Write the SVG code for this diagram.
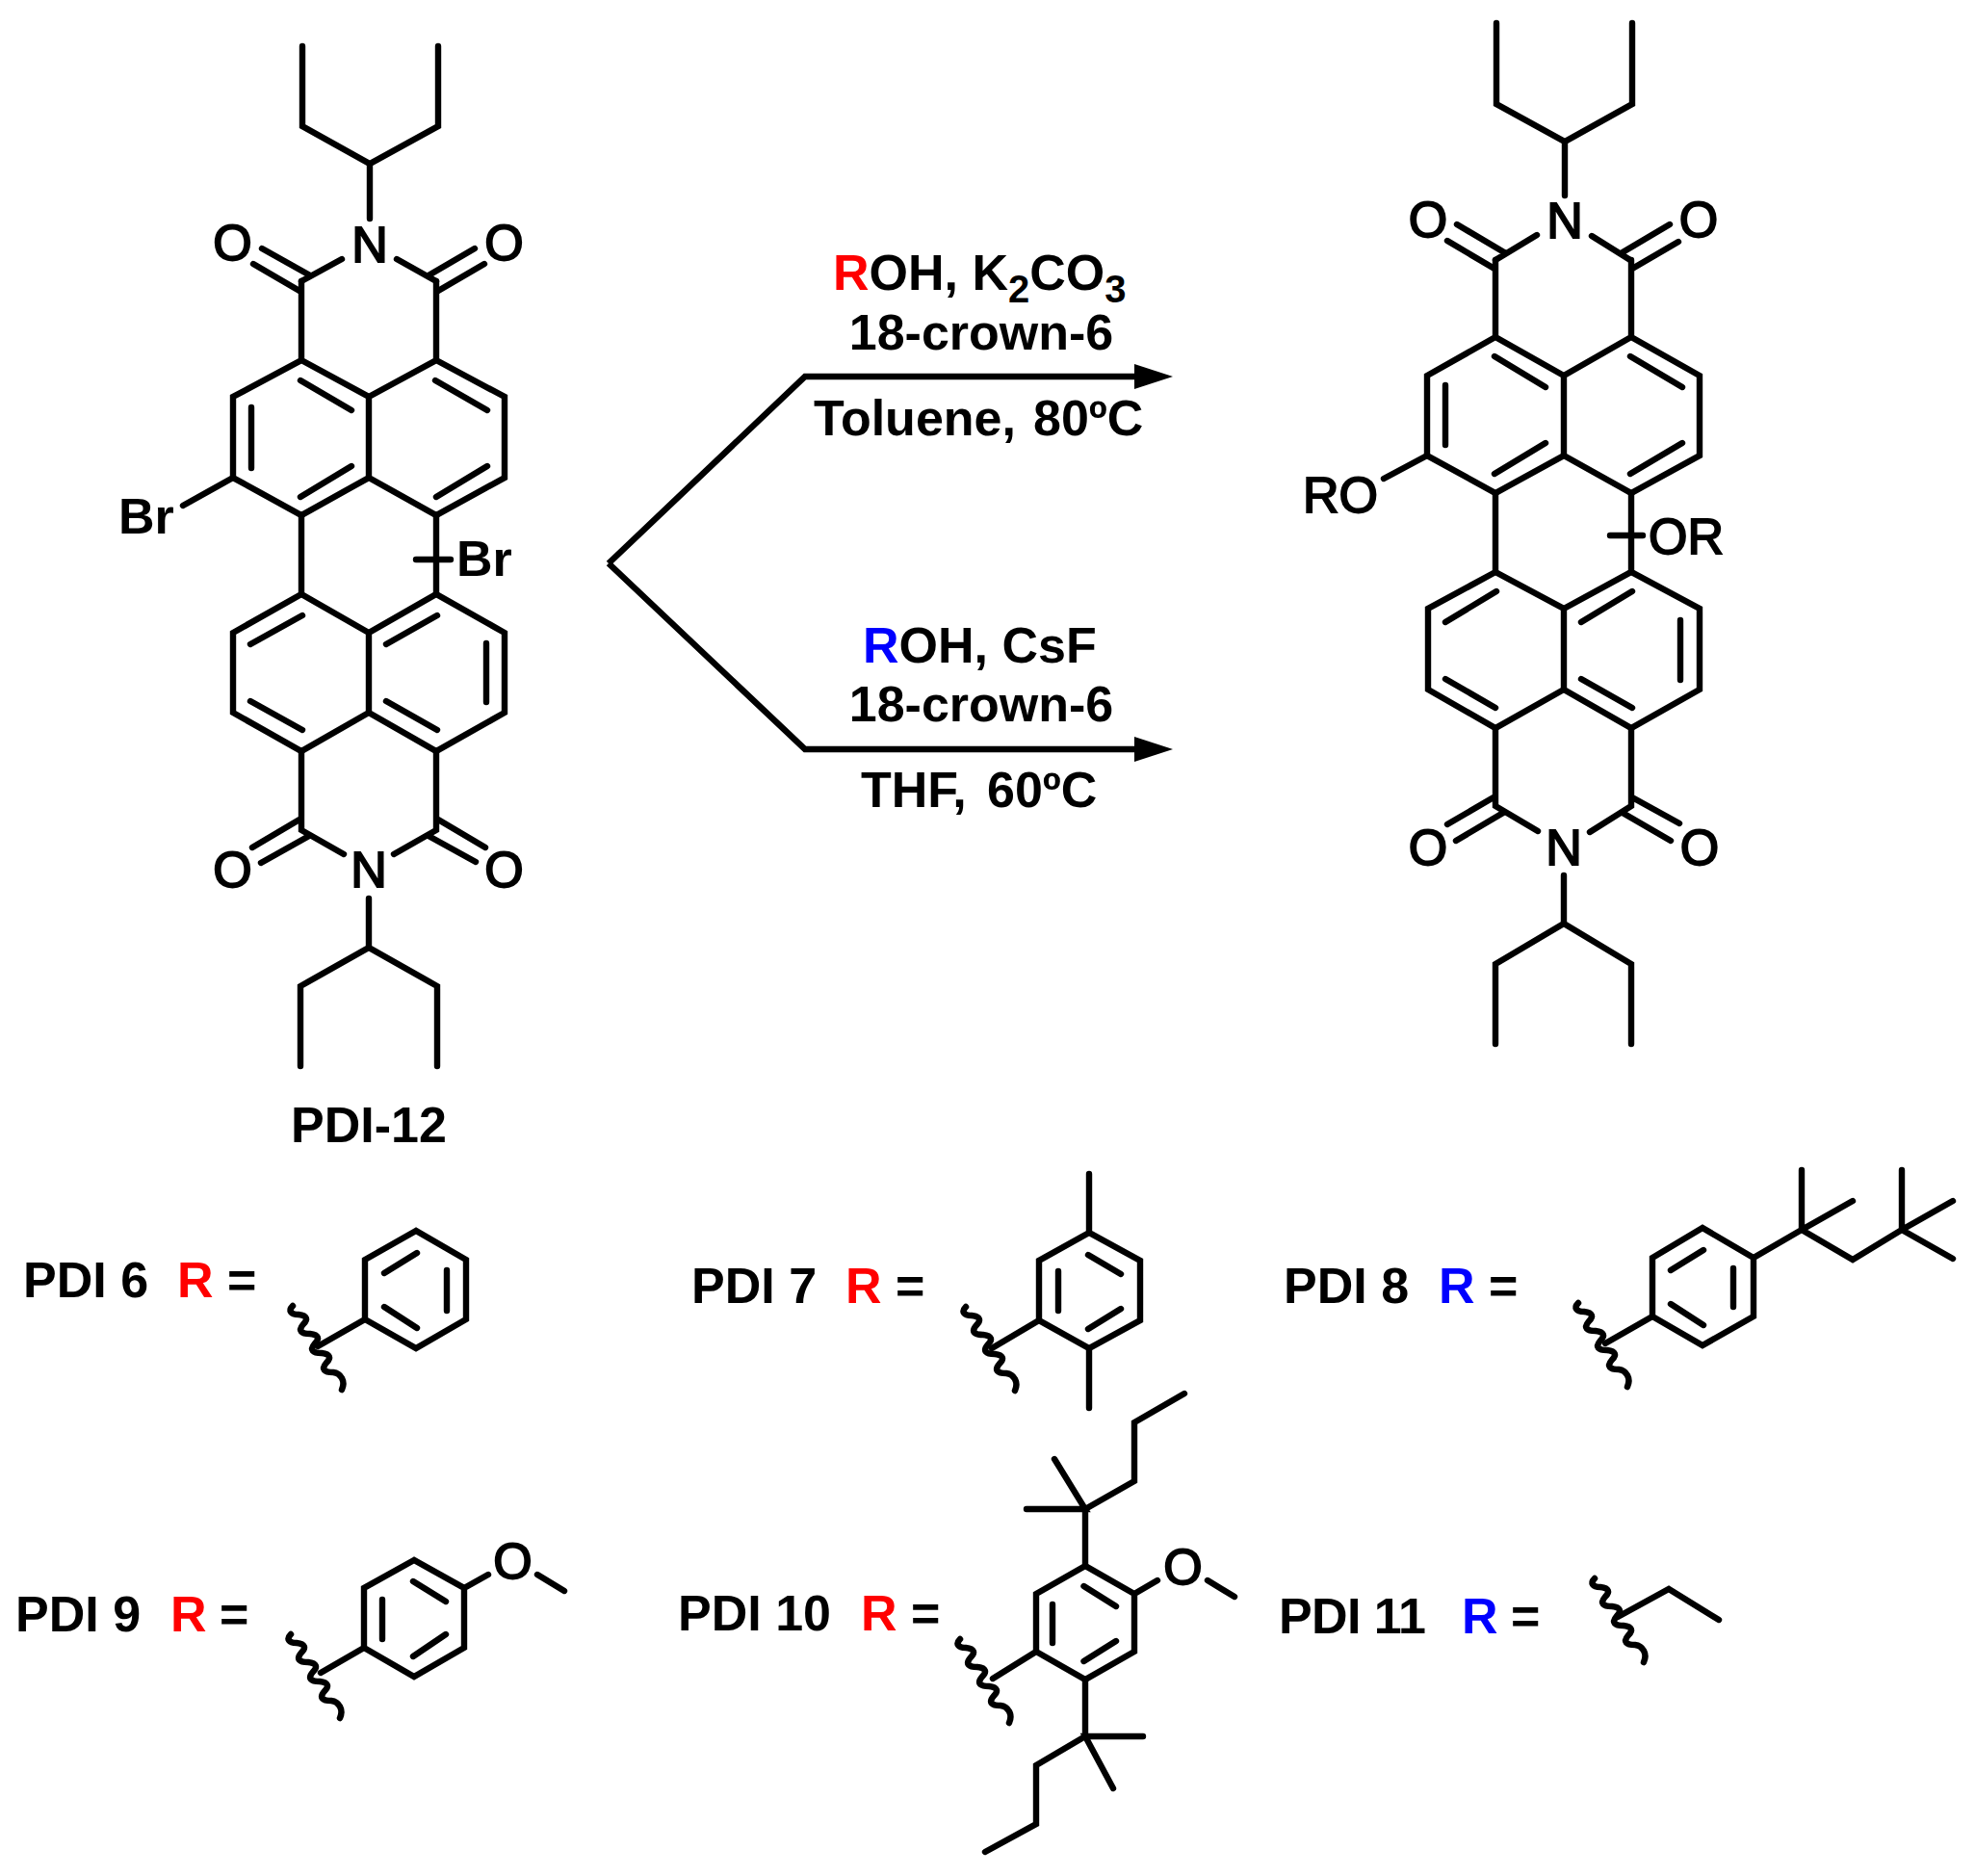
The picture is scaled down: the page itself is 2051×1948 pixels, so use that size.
<svg xmlns="http://www.w3.org/2000/svg" xmlns:xlink="http://www.w3.org/1999/xlink" width="2051" height="1948" viewBox="0 0 2051 1948">
<style>
text{font-family:"Liberation Sans",Arial,sans-serif;font-weight:700;font-size:52px;fill:#000}
text.a{font-weight:400;stroke:#000;stroke-width:1.900}
.bond{fill:none;stroke:#000;stroke-width:6.400;stroke-linecap:round;stroke-linejoin:miter}
.wave{fill:none;stroke:#000;stroke-width:6.500;stroke-linecap:round;stroke-linejoin:round}
.m{text-anchor:middle}
.red{fill:#f00}
.blue{fill:#00f}
.sub{font-size:40px}
.arrow{fill:none;stroke:#000;stroke-width:6.500;stroke-linejoin:miter;stroke-linecap:butt}
</style>
<defs>
<path id="w" class="wave" d="M0 0C-5 5-2 9 6 9C15 10 16 14 11 19C5 26 9 29 18 29C27 30 28 34 23 39C17 46 21 49 30 49C39 50 40 54 35 59C29 66 33 69 42 69C50 70 55 78 51 87"/>
<marker id="head" markerUnits="userSpaceOnUse" markerWidth="42" markerHeight="28" refX="2" refY="14" orient="auto" viewBox="0 0 42 28"><path d="M0 1L40 14L0 27Z" fill="#000"/></marker>
</defs>
<rect width="2051" height="1948" fill="#fff"/>

<g id="connectors">
<path class="arrow" marker-end="url(#head)" d="M632 585L836 391H1180"/>
<path class="arrow" marker-end="url(#head)" d="M632 585L836 778H1180"/>
</g>

<g id="pdi12">
<path class="bond" d="M314 48V131L384 170L455 131V48M384 170V227"/>
<path class="bond" d="M355 269L313 292M412 269L453 292M272 258L322 286M263 274L311 302M493 258L445 286M503 274L455 302"/>
<path class="bond" d="M313 292V374L242 412V496L313 535L383 496V412L313 374M383 412L453 374V292M453 374L524 412V496L453 535L383 496"/>
<path class="bond" d="M312 395L365 426M452 395L506 426M261 423V486M312 516L365 484M453 516L506 484M242 496L190 525"/>
<path class="bond" d="M313 535V617M453 535V617M432 581H468"/>
<path class="bond" d="M313 617L242 657V740L313 780L383 740V657L313 617M383 657L453 617L524 657V740L453 780L383 740M383 657V740"/>
<path class="bond" d="M314 639L260 669M454 639L401 669M505 668V729M260 728L314 758M401 728L454 758"/>
<path class="bond" d="M313 780V862L357 887M453 780V862L409 887M311 851L262 880M321 868L271 896M455 851L504 880M445 868L494 895"/>
<path class="bond" d="M383 933V984M312 1107V1024L383 984L454 1024V1107"/>
<text class="m a" x="384" y="272">N</text>
<text class="m a" x="241.500" y="270">O</text>
<text class="m a" x="523.500" y="270">O</text>
<text x="123" y="554">Br</text>
<text x="474" y="598">Br</text>
<text class="m a" x="383" y="921">N</text>
<text class="m a" x="241.500" y="921">O</text>
<text class="m a" x="523.500" y="921">O</text>
<text class="m" x="383" y="1186">PDI-12</text>
</g>

<g id="reaction-labels">
<text x="865" y="301"><tspan class="red">R</tspan>OH, K<tspan class="sub" dy="13">2</tspan><tspan dy="-13">CO</tspan><tspan class="sub" dy="13">3</tspan></text>
<text class="m" x="1019" y="363">18-crown-6</text>
<text x="845" y="452">Toluene,<tspan x="1073">80ºC</tspan></text>
<text x="896" y="688"><tspan class="blue">R</tspan>OH, CsF</text>
<text class="m" x="1019" y="749">18-crown-6</text>
<text x="894" y="838">THF,<tspan x="1025">60ºC</tspan></text>
</g>

<g id="product">
<path class="bond" d="M1554 24V108L1625 147L1695 108V24M1625 147V203"/>
<path class="bond" d="M1596 244L1553 270M1653 245L1693 270M1513 233L1562 262M1503 250L1552 279M1734 233L1685 262M1743 251L1695 279"/>
<path class="bond" d="M1553 270V350L1482 390V473L1553 512L1624 473V390L1553 350M1624 390L1694 350V270M1694 350L1765 390V473L1694 512L1624 473"/>
<path class="bond" d="M1552 370L1605 402M1693 370L1747 402M1501 400V462M1552 492L1605 460M1693 492L1747 460M1482 473L1437 497"/>
<path class="bond" d="M1553 512V594M1694 512V594M1672 556H1706"/>
<path class="bond" d="M1553 594L1483 632V716L1553 756L1624 716V632L1553 594M1624 632L1694 594L1765 632V716L1694 756L1624 716"/>
<path class="bond" d="M1554 614L1501 646M1695 614L1642 646M1745 644V706M1501 705L1553 735M1642 705L1695 735"/>
<path class="bond" d="M1553 756V837L1597 863M1694 756V837L1651 864M1551 828L1503 856M1561 844L1512 873M1695 828L1744 855M1685 844L1735 873"/>
<path class="bond" d="M1624 909V959M1553 1084V1001L1624 959L1694 1001V1084"/>
<text class="m a" x="1625" y="247">N</text>
<text class="m a" x="1483" y="246">O</text>
<text class="m a" x="1764" y="246">O</text>
<text class="a" x="1353" y="532">RO</text>
<text class="a" x="1712" y="575">OR</text>
<text class="m a" x="1624" y="898">N</text>
<text class="m a" x="1483" y="898">O</text>
<text class="m a" x="1765" y="898">O</text>
</g>

<g id="pdi6">
<text x="24" y="1347">PDI 6<tspan class="red" x="184">R</tspan><tspan x="236">=</tspan></text>
<path class="bond" d="M432 1278L379 1308V1370L432 1400L484 1370V1308ZM433 1301L399 1322M464 1319V1361M399 1357L433 1379M379 1370L330 1398"/>
<use xlink:href="#w" href="#w" x="304" y="1356"/>
</g>

<g id="pdi7">
<text x="718" y="1353">PDI 7<tspan class="red" x="878">R</tspan><tspan x="930">=</tspan></text>
<path class="bond" d="M1131 1280L1079 1309V1371L1131 1400L1184 1371V1309ZM1099 1320V1361M1130 1303L1164 1323M1130 1380L1164 1359M1079 1371L1030 1400M1131 1280V1219M1131 1400V1462"/>
<use xlink:href="#w" href="#w" x="1003" y="1357"/>
</g>

<g id="pdi8">
<text x="1333" y="1353">PDI 8<tspan class="blue" x="1494">R</tspan><tspan x="1546">=</tspan></text>
<path class="bond" d="M1768 1275L1716 1306V1367L1768 1397L1821 1367V1306ZM1769 1298L1735 1319M1800 1317V1357M1735 1354L1769 1376M1716 1367L1667 1395M1821 1306L1871 1277V1215M1871 1277L1924 1247M1871 1277L1924 1308L1975 1277V1215M1975 1277L2028 1247M1975 1277L2028 1307"/>
<use xlink:href="#w" href="#w" x="1639" y="1353"/>
</g>

<g id="pdi9">
<text x="16" y="1694">PDI 9<tspan class="red" x="177">R</tspan><tspan x="228">=</tspan></text>
<path class="bond" d="M430 1620L378 1649V1711L430 1741L482 1711V1649ZM397 1661V1702M429 1642L463 1663M429 1720L463 1697M378 1711L333 1737M482 1649L507 1635M558 1635L586 1652"/>
<use xlink:href="#w" href="#w" x="302" y="1697"/>
<text class="m a" x="532.500" y="1639">O</text>
</g>

<g id="pdi10">
<text x="704" y="1693">PDI 10<tspan class="red" x="894">R</tspan><tspan x="946">=</tspan></text>
<path class="bond" d="M1127 1626L1076 1655V1715L1127 1744L1178 1715V1655ZM1093 1666V1706M1125.500 1647L1159 1668M1125.500 1725L1159 1704M1076 1715L1031 1743M1178 1655L1202 1641M1254 1641L1282 1658"/>
<path class="bond" d="M1127 1626V1567M1066 1567H1127L1095 1515M1127 1567L1178 1538V1477L1230 1447"/>
<path class="bond" d="M1127 1744V1803M1187 1803H1127L1156 1857M1127 1803L1076 1833V1894L1023 1923"/>
<use xlink:href="#w" href="#w" x="997" y="1702"/>
<text class="m a" x="1228.500" y="1645">O</text>
</g>

<g id="pdi11">
<text x="1328" y="1696" textLength="153" lengthAdjust="spacing">PDI 11</text>
<text y="1696"><tspan class="blue" x="1518">R</tspan><tspan x="1569">=</tspan></text>
<path class="bond" d="M1680 1679L1733 1650L1785 1682"/>
<use xlink:href="#w" href="#w" x="1656" y="1639"/>
</g>
</svg>
